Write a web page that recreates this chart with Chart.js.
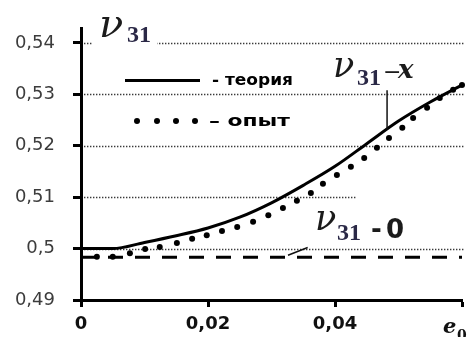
<!DOCTYPE html>
<html>
<head>
<meta charset="utf-8">
<script src="https://cdn.jsdelivr.net/npm/chart.js@4"></script>
<style>
  html, body { margin: 0; padding: 0; background: #fff; }
  #wrap { width: 467px; height: 337px; }
</style>
</head>
<body>
<div id="wrap"><canvas id="c" width="467" height="337"></canvas></div>
<script>
// Poisson's ratio ν31 versus e0: theory curve, measured points, zero-strain level
const eTheory  = [0, 0.005, 0.010, 0.015, 0.020, 0.025, 0.030, 0.035, 0.040, 0.045, 0.050, 0.055, 0.060];
const nuTheory = [0.5000, 0.5000, 0.5012, 0.5025, 0.5040, 0.5061, 0.5089, 0.5123, 0.5160, 0.5204, 0.5248, 0.5285, 0.5318];

const eExp  = [0.0025, 0.0050, 0.0077, 0.0101, 0.0124, 0.0151, 0.0175, 0.0198, 0.0222, 0.0246,
               0.0271, 0.0295, 0.0318, 0.0340, 0.0362, 0.0381, 0.0403, 0.0425, 0.0446, 0.0466,
               0.0485, 0.0506, 0.0523, 0.0545, 0.0565, 0.0586, 0.0600];
const nuExp = [0.4984, 0.4984, 0.4991, 0.4999, 0.5003, 0.5011, 0.5019, 0.5026, 0.5034, 0.5042,
               0.5052, 0.5065, 0.5079, 0.5093, 0.5108, 0.5126, 0.5143, 0.5159, 0.5176, 0.5196,
               0.5215, 0.5235, 0.5254, 0.5274, 0.5293, 0.5309, 0.5318];

const eZero  = [0, 0.060];
const nuZero = [0.4983, 0.4983];

const yTicks      = [0.49, 0.50, 0.51, 0.52, 0.53, 0.54];
const yTickLabels = ['0,49', '0,5', '0,51', '0,52', '0,53', '0,54'];
const xTicks      = [0, 0.02, 0.04, 0.06];
const xTickLabels = ['0', '0,02', '0,04', ''];

const legendLabels = ['- теория', '– опыт'];

const pts = (xs, ys) => xs.map((x, i) => ({ x, y: ys[i] }));
const labelFor = (vals, labels, v) => {
  const i = vals.findIndex(t => Math.abs(t - v) < 1e-9);
  return i < 0 ? '' : labels[i];
};

// dotted horizontal guide lines at every y tick, plus white backing behind the big labels
const guides = {
  id: 'guides',
  beforeDatasetsDraw(chart) {
    const { ctx, chartArea: a, scales: { y } } = chart;
    ctx.save();
    ctx.strokeStyle = '#3a3a3a';
    ctx.lineWidth = 1.3;
    ctx.setLineDash([1.4, 1.6]);
    yTicks.slice(1).forEach(v => {
      const py = Math.round(y.getPixelForValue(v)) + 0.5;
      ctx.beginPath();
      ctx.moveTo(a.left + 3, py);
      ctx.lineTo(a.right + 3, py);
      ctx.stroke();
    });
    ctx.restore();
    // label backings
    ctx.save();
    ctx.fillStyle = '#fff';
    ctx.fillRect(a.left + 12, 6, 64, 40);
    ctx.fillRect(357, 192, 110, 50);
    ctx.restore();
  },
  afterDatasetsDraw(chart) {
    const { ctx, scales: { x, y } } = chart;
    ctx.save();

    // leader lines
    ctx.strokeStyle = '#111';
    ctx.lineWidth = 1.5;
    ctx.beginPath();
    ctx.moveTo(x.getPixelForValue(0.0482), y.getPixelForValue(0.5308));
    ctx.lineTo(x.getPixelForValue(0.0482), y.getPixelForValue(0.5231));
    ctx.stroke();
    ctx.beginPath();
    ctx.moveTo(x.getPixelForValue(0.0326), y.getPixelForValue(0.4987));
    ctx.lineTo(x.getPixelForValue(0.0357), y.getPixelForValue(0.5002));
    ctx.stroke();

    // ν labels
    const nu = (lx, base, size, subX, subBase, subSize, tail) => {
      ctx.textAlign = 'left';
      ctx.textBaseline = 'alphabetic';
      ctx.fillStyle = '#1b1b1b';
      ctx.font = `italic ${size}px "DejaVu Serif"`;
      ctx.fillText('ν', lx, base);
      ctx.fillStyle = '#2a2846';
      ctx.font = `bold ${subSize}px "Liberation Serif"`;
      ctx.fillText('31', subX, subBase);
      if (tail) tail();
    };
    nu(99, 37, 40, 127, 42, 24);
    nu(333, 77, 35, 357, 85, 24, () => {
      ctx.fillStyle = '#1b1b1b';
      ctx.font = '22px "DejaVu Sans"';
      ctx.fillText('−', 383, 79);
      ctx.font = 'italic bold 26px "DejaVu Serif"';
      ctx.fillText('x', 398, 78);
    });
    nu(315, 230, 35, 337, 240, 24, () => {
      ctx.fillStyle = '#1b1b1b';
      ctx.font = 'bold 26px "DejaVu Sans"';
      ctx.fillText('-', 371, 238);
      ctx.fillText('0', 386, 238);
    });

    // e0 at the end of the horizontal axis
    const ex = x.getPixelForValue(0.06);
    ctx.fillStyle = '#111';
    ctx.font = 'italic bold 21px "DejaVu Serif"';
    ctx.fillText('e', ex - 19, 333);
    ctx.font = 'bold 14px "DejaVu Serif"';
    ctx.fillText('0', ex - 5, 340);

    // legend
    ctx.strokeStyle = '#000';
    ctx.lineWidth = 3;
    ctx.setLineDash([]);
    ctx.beginPath();
    ctx.moveTo(125, 80.5);
    ctx.lineTo(200, 80.5);
    ctx.stroke();
    ctx.fillStyle = '#000';
    [137, 157, 176, 195].forEach(px => {
      ctx.beginPath();
      ctx.arc(px, 121, 3, 0, Math.PI * 2);
      ctx.fill();
    });
    ctx.font = 'bold 16px "DejaVu Sans"';
    const fit = (t, lx, base, w) => {
      const m = ctx.measureText(t).width;
      ctx.save();
      ctx.translate(lx, base);
      ctx.scale(w / m, 1);
      ctx.fillText(t, 0, 0);
      ctx.restore();
    };
    fit(legendLabels[0], 212, 85, 81);
    fit(legendLabels[1], 209, 126, 81);

    ctx.restore();
  }
};

new Chart(document.getElementById('c'), {
  type: 'line',
  data: {
    datasets: [
      {
        data: pts(eZero, nuZero),
        borderColor: '#000',
        borderWidth: 3,
        borderDash: [15, 12],
        pointRadius: 0,
        clip: 6
      },
      {
        data: pts(eExp, nuExp),
        showLine: false,
        pointRadius: 3,
        pointBorderWidth: 0,
        pointBackgroundColor: '#000',
        clip: 6
      },
      {
        data: pts(eTheory, nuTheory),
        borderColor: '#000',
        borderWidth: 3,
        pointRadius: 0,
        cubicInterpolationMode: 'monotone',
        clip: 6
      }
    ]
  },
  options: {
    responsive: false,
    animation: false,
    events: [],
    layout: { padding: { top: 28, right: 5, left: 0, bottom: 0 } },
    plugins: { legend: { display: false }, tooltip: { enabled: false } },
    scales: {
      x: {
        type: 'linear',
        min: 0,
        max: 0.06,
        afterBuildTicks: s => { s.ticks = xTicks.map(v => ({ value: v })); },
        afterFit: s => { s.height = 37; s.paddingLeft = 0; s.paddingRight = 0; },
        border: { color: '#000', width: 3 },
        grid: { drawOnChartArea: false, drawTicks: true, tickLength: 7, tickWidth: 3, tickColor: '#000', color: '#000' },
        ticks: {
          autoSkip: false,
          maxRotation: 0,
          padding: 7,
          color: '#111',
          font: { family: 'DejaVu Sans', size: 18, weight: 'bold' },
          callback: v => labelFor(xTicks, xTickLabels, v)
        }
      },
      y: {
        type: 'linear',
        min: 0.49,
        max: 0.5429,
        afterBuildTicks: s => { s.ticks = yTicks.map(v => ({ value: v })); },
        afterFit: s => { s.width = 81; s.paddingTop = 0; s.paddingBottom = 0; },
        border: { color: '#000', width: 3 },
        grid: { drawOnChartArea: false, drawTicks: true, tickLength: 8, tickWidth: 3, tickColor: '#000', color: '#000' },
        ticks: {
          autoSkip: false,
          padding: 18,
          color: '#3c3c3c',
          font: { family: 'DejaVu Sans', size: 18 },
          callback: v => labelFor(yTicks, yTickLabels, v)
        }
      }
    }
  },
  plugins: [guides]
});
</script>
</body>
</html>
